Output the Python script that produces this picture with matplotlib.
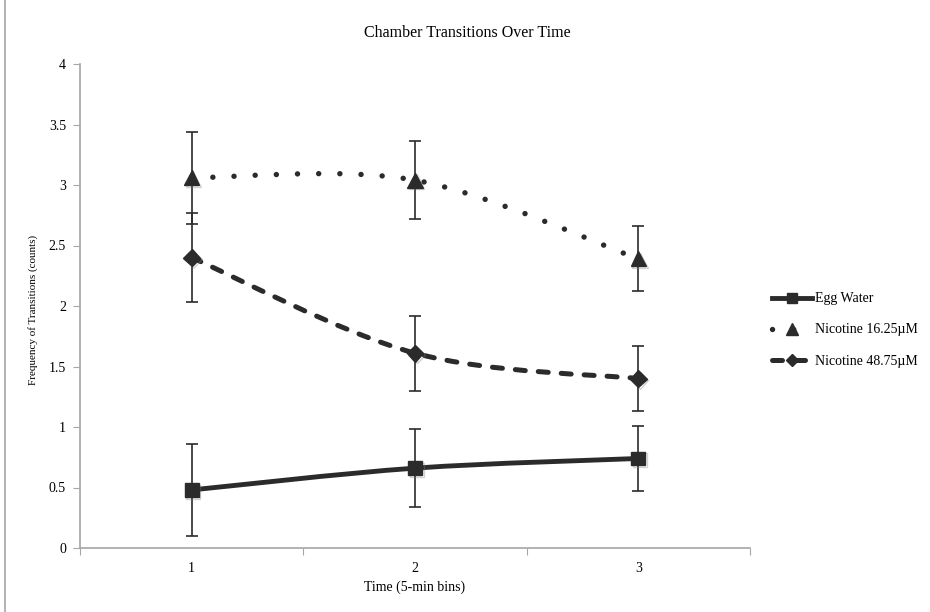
import numpy as np
import matplotlib
matplotlib.use("Agg")
import matplotlib.pyplot as plt
import matplotlib.patheffects as pe
from matplotlib.path import Path
from matplotlib.patches import PathPatch
from matplotlib.lines import Line2D

plt.rcParams["font.family"] = ["Liberation Serif", "DejaVu Serif"]

# data
bins = [1, 2, 3]
egg_water = [0.48, 0.66, 0.74]
egg_water_err = [0.38, 0.32, 0.27]
nic_16 = [3.06, 3.04, 2.39]
nic_16_err = [0.38, 0.32, 0.27]
nic_48 = [2.40, 1.61, 1.40]
nic_48_err = [0.37, 0.31, 0.27]
series_names = ["Egg Water", "Nicotine 16.25\u00b5M", "Nicotine 48.75\u00b5M"]
y_ticks = [0, 0.5, 1, 1.5, 2, 2.5, 3, 3.5, 4]
y_tick_labels = ["0", "0.5", "1", "1.5", "2", "2.5", "3", "3.5", "4"]

INK = "#2b2b2b"
AXIS_GRAY = "#a6a6a6"


def smooth_path(xs, ys):
    """Excel-style smoothed line as cubic bezier segments."""
    pts = np.column_stack([xs, ys]).astype(float)
    ext = np.vstack([pts[0], pts, pts[-1]])
    verts = [pts[0]]
    codes = [Path.MOVETO]
    for i in range(len(pts) - 1):
        p0, p1, p2, p3 = ext[i], ext[i + 1], ext[i + 2], ext[i + 3]
        verts += [p1 + (p2 - p0) / 6, p2 - (p3 - p1) / 6, p2]
        codes += [Path.CURVE4] * 3
    return Path(verts, codes)


fig = plt.figure(figsize=(9.3, 6.12), dpi=100)
ax = fig.add_axes([80 / 930, 1 - 548 / 612, 670 / 930, 484 / 612])

styles = [
    (egg_water, egg_water_err, "-", "s", 10, 3.5),
    (nic_16, nic_16_err, (0, (0.01, 3.9)), "^", 11, 3.9),
    (nic_48, nic_48_err, (0, (2.0, 2.6)), "D", 8.5, 3.6),
]

shadow = [pe.SimpleLineShadow(offset=(1.2, -1.2), shadow_color="gray",
                              alpha=0.35), pe.Normal()]

handles = []
for vals, errs, ls, mk, ms, lw in styles:
    ax.errorbar(bins, vals, yerr=errs, fmt="none", ecolor=INK,
                elinewidth=1.2, capsize=4, capthick=1.2, zorder=2)
    patch = PathPatch(smooth_path(bins, vals), fill=False, edgecolor=INK,
                      linewidth=lw, linestyle=ls, zorder=3)
    patch.set_capstyle("round")
    ax.add_patch(patch)
    ax.plot(bins, vals, linestyle="none", marker=mk, markersize=ms,
            color=INK, zorder=4, path_effects=shadow)
    h = Line2D([], [], color=INK, linewidth=lw, linestyle=ls, marker=mk,
               markersize=ms * 0.75, dash_capstyle="round")
    handles.append(h)

ax.set_xlim(0.5, 3.5)
ax.set_ylim(0, 4)
ax.set_yticks(y_ticks)
ax.set_yticklabels(y_tick_labels)
ax.set_xticks([0.5, 1.5, 2.5, 3.5])
ax.set_xticklabels([])
ax.set_xticks(bins, minor=True)
ax.set_xticklabels([str(b) for b in bins], minor=True)
ax.tick_params(axis="x", which="major", direction="out", length=5,
               color=AXIS_GRAY)
ax.tick_params(axis="x", which="minor", length=0, pad=10, labelsize=10)
ax.tick_params(axis="y", direction="out", length=5, color=AXIS_GRAY,
               pad=5, labelsize=10)

for side in ["top", "right"]:
    ax.spines[side].set_visible(False)
for side in ["left", "bottom"]:
    ax.spines[side].set_color(AXIS_GRAY)
    ax.spines[side].set_linewidth(1.2)

fig.text(467 / 930, 1 - 33 / 612, "Chamber Transitions Over Time",
         fontsize=11.5, ha="center", va="center")
ax.set_xlabel("Time (5-min bins)", fontsize=10, labelpad=4)
ax.set_ylabel("Frequency of Transitions (counts)", fontsize=8, labelpad=2)
ax.yaxis.set_label_coords((38 - 80) / 670, (548 - 310) / 484)

fig.legend(handles, series_names, loc="center left",
           bbox_to_anchor=(772 / 930, 1 - 330 / 612), frameon=False,
           fontsize=10, handlelength=2.9, labelspacing=1.3,
           handletextpad=0.2, borderaxespad=0, borderpad=0)

fig.add_artist(Line2D([4.5 / 930, 4.5 / 930], [0, 1], color=AXIS_GRAY,
                      linewidth=1.2))

fig.savefig("out.png", dpi=100)
